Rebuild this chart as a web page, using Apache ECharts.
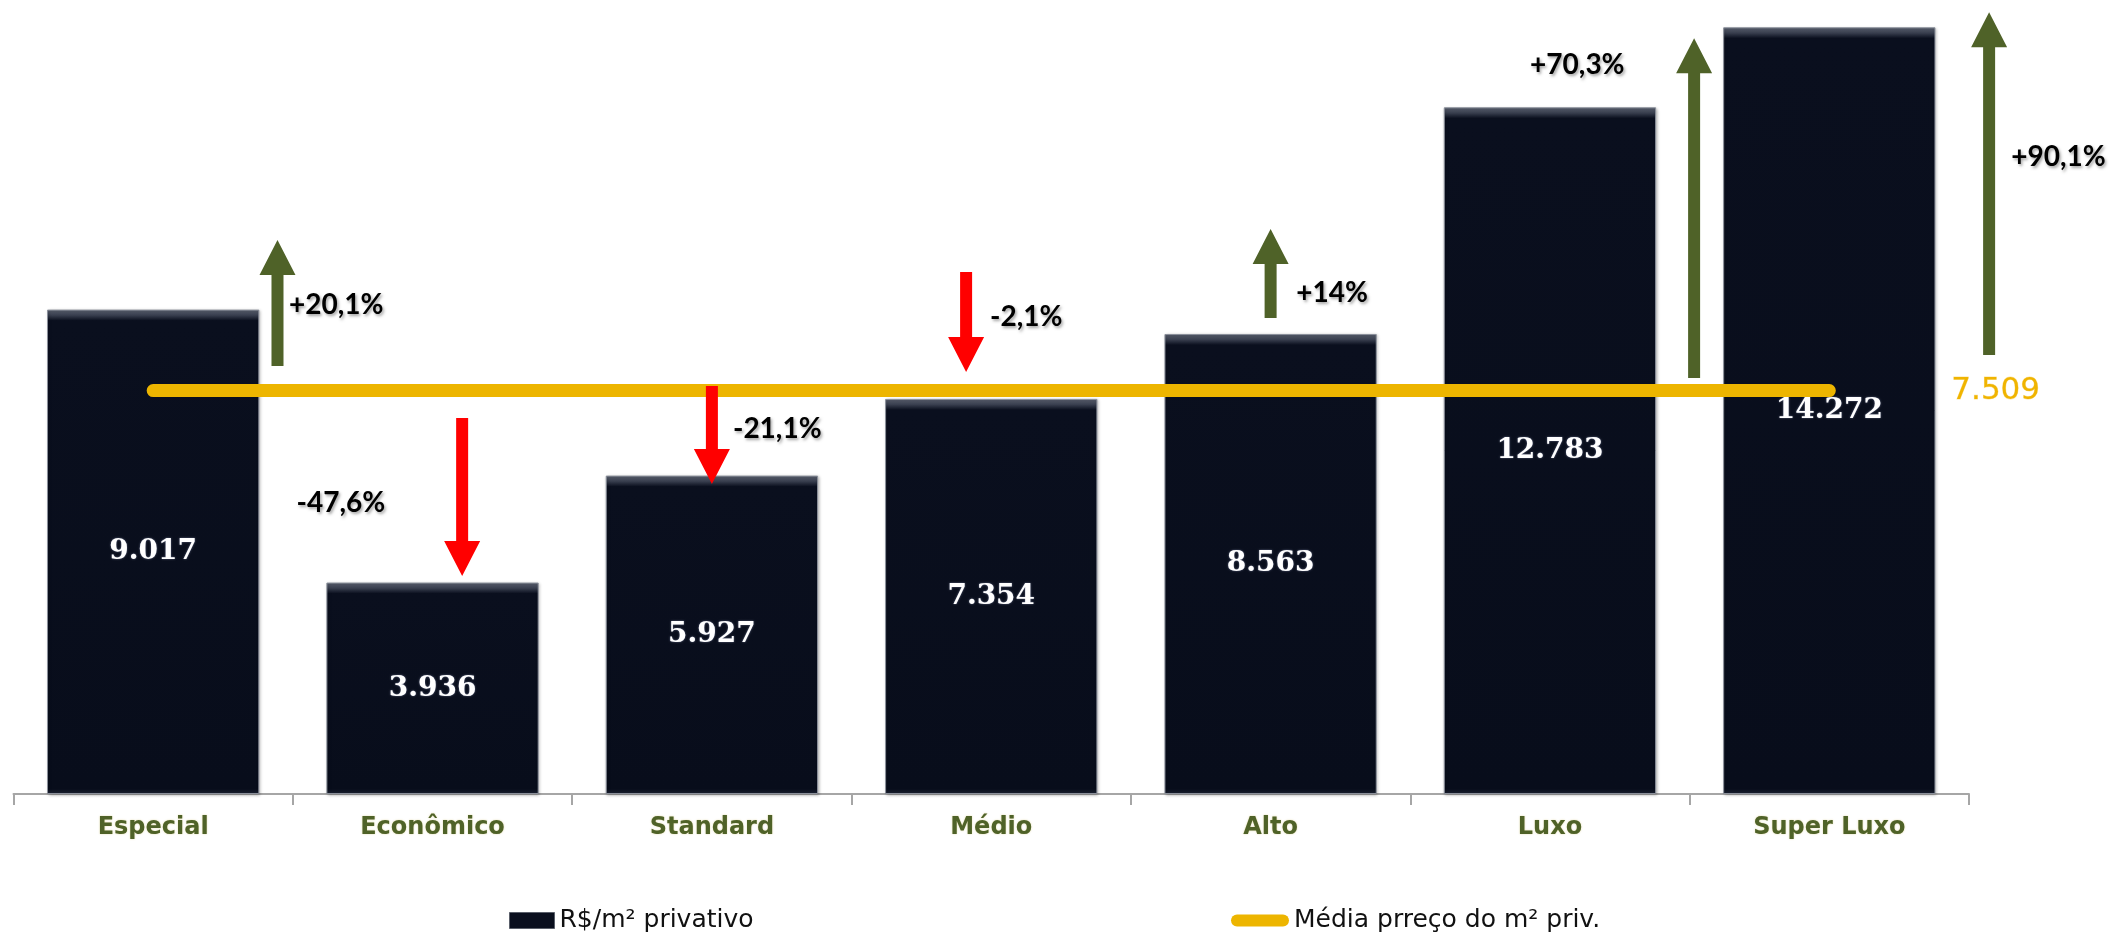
<!DOCTYPE html>
<html>
<head>
<meta charset="utf-8">
<script src="https://cdn.jsdelivr.net/npm/echarts@6/dist/echarts.min.js"></script>
<style>
html,body{margin:0;padding:0;background:#fff;}
#chart{width:2110px;height:936px;}
</style>
</head>
<body>
<div id="chart"></div>
<script>
// ---- data ----
var categories = ['Especial', 'Econômico', 'Standard', 'Médio', 'Alto', 'Luxo', 'Super Luxo'];
var priceM2 = [9017, 3936, 5927, 7354, 8563, 12783, 14272];
var averagePrice = [7509, 7509, 7509, 7509, 7509, 7509, 7509];
var averageLabel = '7.509';
var changeLabels = ['+20,1%', '-47,6%', '-21,1%', '-2,1%', '+14%', '+70,3%', '+90,1%'];
// arrow annotations: start and end value of each arrow (R$/m²)
var arrowFrom = [7966, 6998, 7593, 9715, 8859, 7742, 8170];
var arrowTo   = [10311, 4057, 5770, 7854, 10516, 14070, 14554];
// annotation anchoring (category offset and value level of the % text)
var arrowShift = [0.445, 0.106, 0, -0.09, 0, 0.516, 0.572];
var labelShift = [0.655, -0.328, 0.234, 0.125, 0.22, 0.098, 0.82];
var labelLevel = [9101, 5416, 6793, 8878, 9324, 13568, 11855];

var Y_MAX = 14780;
var PLOT_H = 794;

function fmt(v) {
  return String(v).replace(/\B(?=(\d{3})+(?!\d))/g, '.');
}

// bevelled bar fill: thin light band at the top of each bar
function bevel(v) {
  var h = v / Y_MAX * PLOT_H;
  var f = 11 / h;
  var b = 5 / h;
  return {
    type: 'linear', x: 0, y: 0, x2: 0, y2: 1,
    colorStops: [
      {offset: 0, color: '#5d6372'},
      {offset: f * 0.5, color: '#3a4050'},
      {offset: f, color: '#0a0f1e'},
      {offset: 1 - b, color: '#080d1b'},
      {offset: 1, color: '#1c2232'}
    ]
  };
}

var barData = priceM2.map(function (v) {
  return {value: v, itemStyle: {color: bevel(v)}};
});

var arrowData = categories.map(function (c, i) {
  return [i, arrowShift[i], arrowFrom[i], arrowTo[i]];
});
var labelData = categories.map(function (c, i) {
  return [i, labelShift[i], labelLevel[i]];
});

var chart = echarts.init(document.getElementById('chart'), null, {renderer: 'canvas'});

var option = {
  backgroundColor: '#ffffff',
  animation: false,
  grid: {left: 13.5, right: 141, top: 0, bottom: 142, containLabel: false},
  legend: [
    {
      left: 504, top: 903,
      itemWidth: 45, itemHeight: 16, itemGap: 6,
      data: [{name: 'R$/m² privativo', icon: 'rect', itemStyle: {color: '#0a0f1e', borderColor: '#5a5f6a', borderWidth: 1}}],
      textStyle: {fontFamily: 'DejaVu Sans', fontSize: 25, color: '#111'}
    },
    {
      left: 1226, top: 903,
      itemWidth: 58, itemHeight: 13, itemGap: 6,
      data: [{name: 'Média prreço do m² priv.', icon: 'path://M6,0 H52 A6,6 0 0 1 52,12 H6 A6,6 0 0 1 6,0 Z', itemStyle: {color: '#edb500'}}],
      textStyle: {fontFamily: 'DejaVu Sans', fontSize: 25, color: '#111'}
    }
  ],
  xAxis: {
    type: 'category',
    data: categories,
    boundaryGap: true,
    axisLine: {show: true, lineStyle: {color: '#a6a6a6', width: 2}},
    axisTick: {show: true, length: 11, lineStyle: {color: '#a6a6a6', width: 2}},
    axisLabel: {
      margin: 22,
      fontFamily: 'DejaVu Sans', fontWeight: 'bold', fontSize: 24, color: '#4f6228',
      textShadowColor: 'rgba(190,170,60,0.45)', textShadowBlur: 2
    },
    splitLine: {show: false}
  },
  yAxis: {
    type: 'value', min: 0, max: Y_MAX, show: false,
    splitLine: {show: false}
  },
  series: [
    {
      name: 'R$/m² privativo',
      type: 'bar',
      data: barData,
      barWidth: '76%',
      z: 2,
      itemStyle: {
        color: '#080d1b',
        borderColor: '#8b909b', borderWidth: 1,
        shadowColor: 'rgba(0,0,0,0.25)', shadowBlur: 3, shadowOffsetX: 1, shadowOffsetY: 1
      },
      label: {
        show: true, position: 'inside',
        formatter: function (p) { return fmt(p.value); },
        fontFamily: 'DejaVu Serif', fontWeight: 'bold', fontSize: 28, color: '#ffffff',
        textShadowColor: 'rgba(200,210,255,0.5)', textShadowBlur: 2
      }
    },
    {
      name: 'Média prreço do m² priv.',
      type: 'line',
      data: averagePrice,
      z: 3,
      symbol: 'none',
      showSymbol: false,
      lineStyle: {color: '#edb500', width: 13, cap: 'round'},
      itemStyle: {color: '#edb500'},
      endLabel: {
        show: true, distance: 122,
        formatter: function () { return averageLabel; },
        fontFamily: 'DejaVu Sans', fontSize: 31, color: '#f0b400',
        textBorderColor: 'rgba(240,180,0,0.35)', textBorderWidth: 0.8
      }
    },
    {
      type: 'custom',
      name: 'arrows',
      z: 5,
      clip: false,
      silent: true,
      data: arrowData,
      encode: {x: 0, y: 2},
      renderItem: function (params, api) {
        var cat = api.value(0), shift = api.value(1), from = api.value(2), to = api.value(3);
        var w = api.size([1, 0])[0];
        var p1 = api.coord([cat, from]);
        var p2 = api.coord([cat, to]);
        var x = p1[0] + shift * w;
        var y1 = p1[1], y2 = p2[1];
        var dir = y2 < y1 ? -1 : 1;
        var hb = y2 - dir * 35;
        var up = to > from;
        return {
          type: 'polygon',
          shape: {points: [[x - 6, y1], [x + 6, y1], [x + 6, hb], [x + 18, hb], [x, y2], [x - 18, hb], [x - 6, hb]]},
          style: {fill: up ? '#4f6228' : '#ff0000'}
        };
      }
    },
    {
      type: 'custom',
      name: 'changes',
      z: 6,
      clip: false,
      silent: true,
      data: labelData,
      encode: {x: 0, y: 2},
      renderItem: function (params, api) {
        var cat = api.value(0), shift = api.value(1), lvl = api.value(2);
        var w = api.size([1, 0])[0];
        var p = api.coord([cat, lvl]);
        return {
          type: 'text',
          x: p[0] + shift * w,
          y: p[1],
          style: {
            text: changeLabels[params.dataIndex],
            fontFamily: 'Lato', fontWeight: 'bold', fontSize: 28, fill: '#000',
            align: 'center', verticalAlign: 'middle',
            textShadowColor: 'rgba(0,0,0,0.35)', textShadowBlur: 3, textShadowOffsetX: 1.5, textShadowOffsetY: 1.5
          }
        };
      }
    }
  ]
};
chart.setOption(option);
</script>
</body>
</html>
